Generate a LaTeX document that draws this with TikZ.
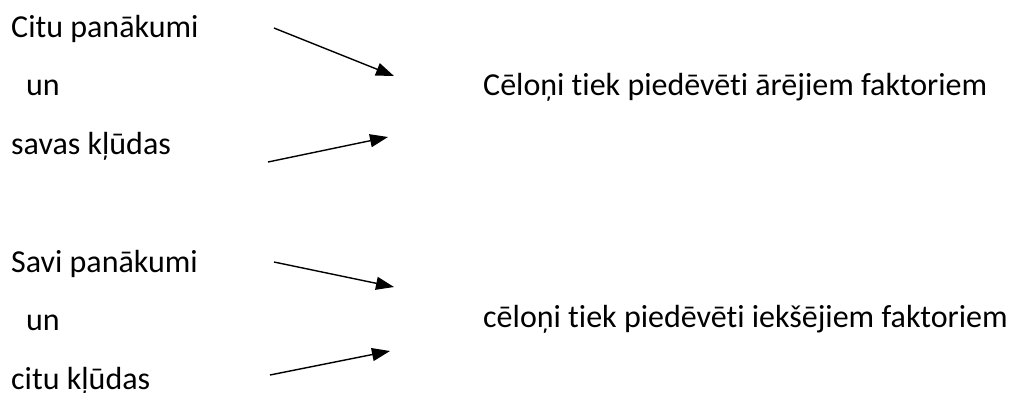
\documentclass[tikz,border=0pt]{standalone}
\usepackage{fontspec}
\setmainfont[RawFeature={-liga}]{Carlito}
\usetikzlibrary{arrows.meta}
\begin{document}
\begin{tikzpicture}[x=1pt,y=-1pt,
  label/.style={anchor=base west,inner sep=0pt,font=\fontsize{32}{38}\selectfont},
  arr/.style={line width=1.4pt,-{Triangle[length=18pt,width=13pt]}}]
\useasboundingbox (0,0) rectangle (1012,392);
% upper group
\node[label] (t1) at (11,37) {Citu panākumi};
\node[label] (t2) at (26,95) {un};
\node[label] (t3) at (11,154) {savas kļūdas};
\node[label] (r1) at (483,95) {Cēloņi tiek piedēvēti ārējiem faktoriem};
% lower group
\node[label] (t4) at (11,272) {Savi panākumi};
\node[label] (t5) at (26,330) {un};
\node[label] (t6) at (11,389) {citu kļūdas};
\node[label] (r2) at (483,327) {cēloņi tiek piedēvēti iekšējiem faktoriem};
% arrow ends
\coordinate (a1s) at (274,28);  \coordinate (a1e) at (394,76);
\coordinate (a2s) at (268,162); \coordinate (a2e) at (388,137);
\coordinate (a3s) at (274,262); \coordinate (a3e) at (394,287);
\coordinate (a4s) at (270,375); \coordinate (a4e) at (390,351);
\draw[arr] (a1s) -- (a1e);
\draw[arr] (a2s) -- (a2e);
\draw[arr] (a3s) -- (a3e);
\draw[arr] (a4s) -- (a4e);
\end{tikzpicture}
\end{document}
